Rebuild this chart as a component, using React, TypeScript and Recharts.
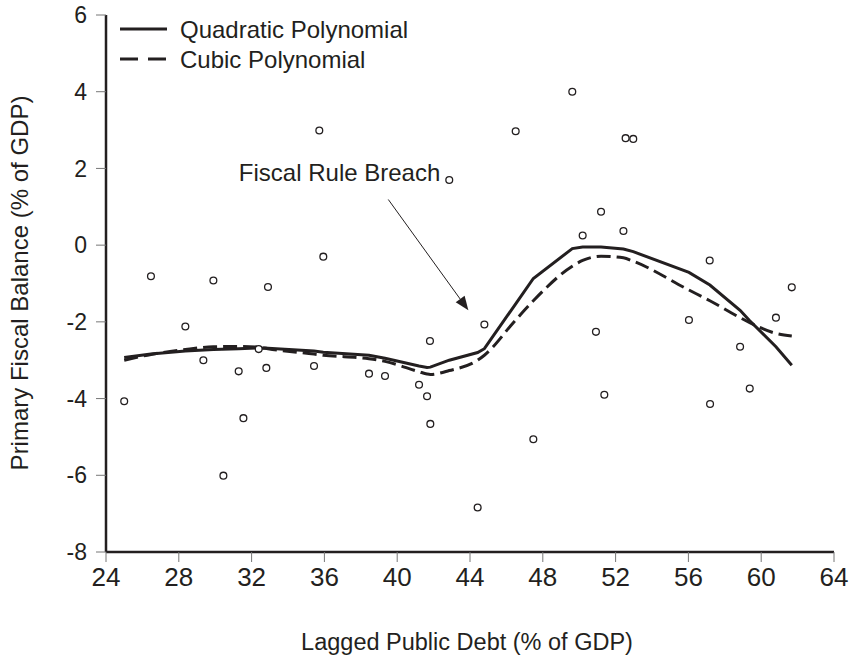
import React from 'react';
import { ComposedChart, Line, Scatter, XAxis, YAxis, ReferenceLine } from 'recharts';

const FONT = '"Liberation Sans", Arial, Helvetica, sans-serif';
const INK = '#231f20';

// Scatter observations: lagged public debt (x) and primary fiscal balance (y)
const debt = [25.0, 26.47, 28.36, 29.35, 29.9, 30.45, 31.29, 31.55, 32.39, 32.81, 32.9, 35.43, 35.72, 35.94, 38.45, 39.33, 41.2, 41.64, 41.8, 41.82, 42.86, 44.42, 44.79, 46.51, 47.48, 49.62, 50.19, 50.92, 51.2, 51.38, 52.43, 52.55, 52.97, 56.03, 57.17, 57.19, 58.84, 59.37, 60.81, 61.68];
const balance = [-4.07, -0.81, -2.12, -3.0, -0.92, -6.01, -3.29, -4.51, -2.71, -3.2, -1.09, -3.15, 2.99, -0.3, -3.35, -3.41, -3.64, -3.94, -2.5, -4.66, 1.7, -6.84, -2.07, 2.97, -5.06, 4.0, 0.25, -2.26, 0.87, -3.9, 0.37, 2.79, 2.77, -1.95, -0.4, -4.14, -2.65, -3.74, -1.89, -1.1];

// Fitted curves
const quadDebt = [25.0, 26.47, 28.36, 29.9, 31.3, 32.4, 32.9, 35.43, 35.94, 38.45, 39.33, 41.2, 41.64, 41.82, 42.86, 44.42, 44.79, 46.51, 47.48, 49.62, 50.19, 51.2, 52.43, 52.97, 56.03, 57.18, 58.84, 59.37, 60.81, 61.68];
const quadFit = [-2.93, -2.84, -2.76, -2.72, -2.7, -2.68, -2.69, -2.76, -2.79, -2.87, -2.95, -3.15, -3.19, -3.18, -3.0, -2.8, -2.7, -1.53, -0.87, -0.09, -0.05, -0.05, -0.1, -0.17, -0.71, -1.04, -1.7, -1.97, -2.65, -3.13];
const cubicDebt = [25.0, 26.47, 28.36, 29.9, 31.3, 32.4, 32.9, 35.43, 35.94, 38.45, 39.33, 41.2, 41.64, 41.82, 42.86, 44.42, 44.79, 46.51, 47.48, 49.62, 50.19, 51.2, 52.43, 52.97, 56.03, 57.18, 58.84, 59.37, 60.81, 61.68];
const cubicFit = [-3.0, -2.85, -2.72, -2.65, -2.64, -2.66, -2.7, -2.84, -2.87, -2.96, -3.03, -3.3, -3.36, -3.37, -3.27, -3.0, -2.87, -1.95, -1.45, -0.55, -0.4, -0.29, -0.33, -0.42, -1.17, -1.45, -1.89, -2.02, -2.3, -2.37];

const xTicks = [24, 28, 32, 36, 40, 44, 48, 52, 56, 60, 64];
const yTicks = [-8, -6, -4, -2, 0, 2, 4, 6];

const legendLabels = ['Quadratic Polynomial', 'Cubic Polynomial'];
const xTitle = 'Lagged Public Debt (% of GDP)';
const yTitle = 'Primary Fiscal Balance (% of GDP)';
const annotationText = 'Fiscal Rule Breach';
const arrowFrom = { x: 39.51, y: 1.19 };
const arrowTo = { x: 43.91, y: -1.7 };

const points = debt.map((x, i) => ({ x, y: balance[i] }));
const quadData = quadDebt.map((x, i) => ({ x, y: quadFit[i] }));
const cubicData = cubicDebt.map((x, i) => ({ x, y: cubicFit[i] }));

const OpenCircle = (props: any) => {
  const { cx, cy } = props;
  if (cx == null || cy == null) return null;
  return <circle cx={cx} cy={cy} r={3.4} fill="#fff" stroke={INK} strokeWidth={1.3} />;
};

const ArrowShape = (props: any) => {
  const { x1, y1, x2, y2 } = props;
  if ([x1, y1, x2, y2].some((v) => v == null || isNaN(v))) return null;
  const dx = x2 - x1;
  const dy = y2 - y1;
  const len = Math.sqrt(dx * dx + dy * dy);
  const ux = dx / len;
  const uy = dy / len;
  const headLen = 14;
  const headHalf = 5.5;
  const bx = x2 - ux * headLen;
  const by = y2 - uy * headLen;
  const px = -uy;
  const py = ux;
  return (
    <g>
      <line x1={x1} y1={y1} x2={bx} y2={by} stroke={INK} strokeWidth={1} />
      <polygon
        points={`${x2},${y2} ${bx + px * headHalf},${by + py * headHalf} ${bx - px * headHalf},${by - py * headHalf}`}
        fill={INK}
      />
      <text
        x={x1 + 52}
        y={y1 - 27}
        textAnchor="end"
        dominantBaseline="central"
        fontFamily={FONT}
        fontSize={24}
        fill={INK}
      >
        {annotationText}
      </text>
    </g>
  );
};

export default function App() {
  return (
    <div style={{ position: 'absolute', left: 0, top: 0, width: 851, height: 660, background: '#fff' }}>
      <ComposedChart
        width={851}
        height={660}
        margin={{ top: 15, right: 17, bottom: 0, left: 0 }}
        style={{ position: 'absolute', left: 0, top: 0 }}
      >
        <XAxis
          type="number"
          dataKey="x"
          domain={[24, 64]}
          ticks={xTicks}
          height={108}
          axisLine={{ stroke: INK, strokeWidth: 2.5 }}
          tickLine={{ stroke: '#777', strokeWidth: 1 }}
          tickSize={10}
          tickMargin={6}
          tick={{ fill: INK, fontSize: 26, fontFamily: FONT }}
          allowDecimals={false}
        />
        <YAxis
          type="number"
          dataKey="y"
          domain={[-8, 6]}
          ticks={yTicks}
          width={106}
          axisLine={{ stroke: INK, strokeWidth: 2.5 }}
          tickLine={{ stroke: '#777', strokeWidth: 1 }}
          tickSize={10}
          tickMargin={9}
          tick={{ fill: INK, fontSize: 23, fontFamily: FONT }}
        />
        <Scatter data={points} shape={OpenCircle} isAnimationActive={false} />
        <Line
          data={quadData}
          dataKey="y"
          type="linear"
          stroke={INK}
          strokeWidth={3}
          dot={false}
          activeDot={false}
          isAnimationActive={false}
        />
        <Line
          data={cubicData}
          dataKey="y"
          type="monotone"
          stroke={INK}
          strokeWidth={3}
          strokeDasharray="14 6"
          dot={false}
          activeDot={false}
          isAnimationActive={false}
        />
        <ReferenceLine segment={[arrowFrom, arrowTo]} shape={ArrowShape} ifOverflow="extendDomain" />
      </ComposedChart>
      <svg
        width={851}
        height={660}
        style={{ position: 'absolute', left: 0, top: 0, pointerEvents: 'none' }}
      >
        <line x1={120} y1={29} x2={167} y2={29} stroke={INK} strokeWidth={3} />
        <text x={180} y={29} dominantBaseline="central" fontFamily={FONT} fontSize={24} fill={INK}>
          {legendLabels[0]}
        </text>
        <line x1={120} y1={59} x2={167} y2={59} stroke={INK} strokeWidth={3} strokeDasharray="18 10" />
        <text x={180} y={59} dominantBaseline="central" fontFamily={FONT} fontSize={24} fill={INK}>
          {legendLabels[1]}
        </text>
        <text x={467} y={642} textAnchor="middle" dominantBaseline="central" fontFamily={FONT} fontSize={23.5} fill={INK}>
          {xTitle}
        </text>
        <text
          x={19}
          y={283}
          transform="rotate(-90 19 283)"
          textAnchor="middle"
          dominantBaseline="central"
          fontFamily={FONT}
          fontSize={24}
          fill={INK}
        >
          {yTitle}
        </text>
      </svg>
    </div>
  );
}
